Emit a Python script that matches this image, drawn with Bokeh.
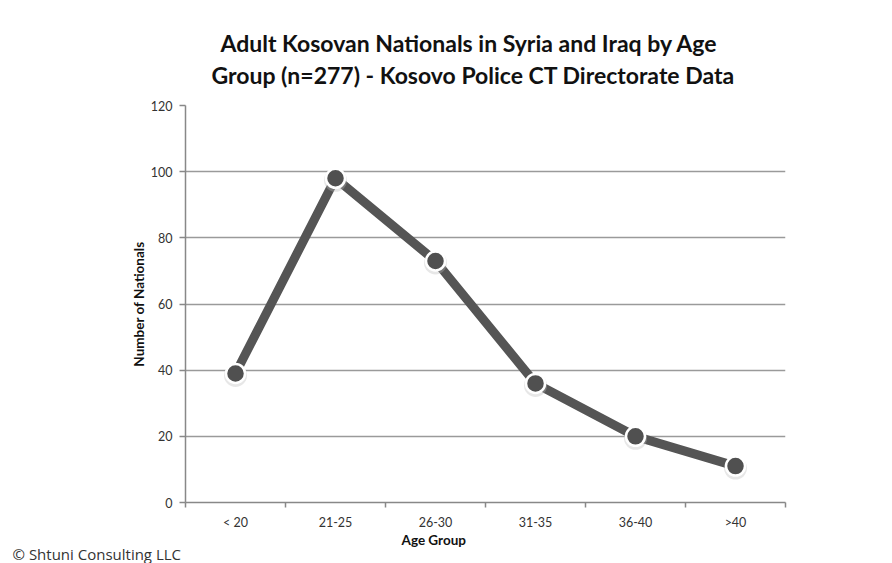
from bokeh.plotting import figure
from bokeh.models import Range1d, FixedTicker, Title
from bokeh.embed import file_html
from bokeh.resources import INLINE

# ---- data ----
categories = ["< 20", "21-25", "26-30", "31-35", "36-40", ">40"]
counts = [39, 98, 73, 36, 20, 11]
y_ticks = [0, 20, 40, 60, 80, 100, 120]
title_lines = ["Adult Kosovan Nationals in Syria and Iraq by Age",
               "Group (n=277) - Kosovo Police CT Directorate Data"]
y_title = "Number of Nationals"
x_title = "Age Group"
credit = "\u00a9 Shtuni Consulting LLC"

xs = [i + 0.5 for i in range(len(categories))]

W, H = 892, 563
FL, FT, FW, FH = 185, 105, 600, 397
p = figure(width=W, height=H, output_backend="svg", toolbar_location=None,
           x_range=Range1d(0, len(categories)), y_range=Range1d(0, 120),
           min_border_left=FL, min_border_right=W - FL - FW,
           min_border_top=FT, min_border_bottom=H - FT - FH)
p.outline_line_color = None
p.background_fill_color = "white"
p.border_fill_color = "white"

FONT = "Lato"

# titles (figure title is the outer line, added Title is nearest the plot)
p.title.text = title_lines[0]
p.title.align = "left"
p.title.offset = 35
p.title.text_font = FONT
p.title.text_font_size = "23px"
p.title.text_font_style = "bold"
p.title.text_color = "#111111"
p.title.standoff = -30
p.add_layout(Title(text=title_lines[1], align="left", offset=26, text_font=FONT,
                   text_font_size="23px", text_font_style="bold", text_color="#111111",
                   standoff=34), "above")

# x axis: labels at category centres, ticks at boundaries
p.xaxis.ticker = FixedTicker(ticks=xs, minor_ticks=list(range(len(categories) + 1)))
p.xaxis.major_label_overrides = {x: c for x, c in zip(xs, categories)}
p.xaxis.major_tick_line_color = None
p.xaxis.minor_tick_line_color = "#888888"
p.xaxis.minor_tick_line_width = 1.5
p.xaxis.minor_tick_in = 0
p.xaxis.minor_tick_out = 5
p.xaxis.axis_line_color = "#888888"
p.xaxis.axis_line_width = 1.5
p.xaxis.major_label_text_font = FONT
p.xaxis.major_label_text_font_size = "12.5px"
p.xaxis.major_label_text_color = "#333333"
p.xaxis.major_label_standoff = 6

p.yaxis.ticker = FixedTicker(ticks=y_ticks, minor_ticks=[])
p.yaxis.major_tick_line_color = "#888888"
p.yaxis.major_tick_line_width = 1.5
p.yaxis.major_tick_in = 0
p.yaxis.major_tick_out = 6
p.yaxis.axis_line_color = "#888888"
p.yaxis.axis_line_width = 1.5
p.yaxis.major_label_text_font = FONT
p.yaxis.major_label_text_font_size = "12.5px"
p.yaxis.major_label_text_color = "#333333"
p.yaxis.major_label_standoff = 7
p.yaxis.axis_label = y_title
p.yaxis.axis_label_text_font = FONT
p.yaxis.axis_label_text_font_size = "13.5px"
p.yaxis.axis_label_text_font_style = "bold"
p.yaxis.axis_label_text_color = "#111111"
p.yaxis.axis_label_standoff = 1

p.xgrid.grid_line_color = None
p.ygrid.grid_line_color = "#9a9a9a"
p.ygrid.grid_line_width = 1.5
p.ygrid.ticker = FixedTicker(ticks=y_ticks[1:])

# series
p.line(xs, counts, line_color="#555555", line_width=9, line_join="round")
p.scatter(xs, [c - 0.6 for c in counts], size=23, fill_color="#bbbbbb", fill_alpha=0.35,
          line_color=None)
p.scatter(xs, counts, size=19, fill_color="#505050", line_color="white", line_width=2.5)

# lower texts as panels below the x axis
p.add_layout(Title(text=x_title, align="left", offset=216, text_font=FONT,
                   text_font_size="13.5px", text_font_style="bold", text_color="#111111",
                   standoff=-6), "below")
p.add_layout(Title(text=credit, align="left", offset=-173, text_font="Open Sans",
                   text_font_size="15px", text_font_style="normal", text_color="#333333",
                   standoff=-5), "below")

open("out.html", "w").write(file_html(p, INLINE))
